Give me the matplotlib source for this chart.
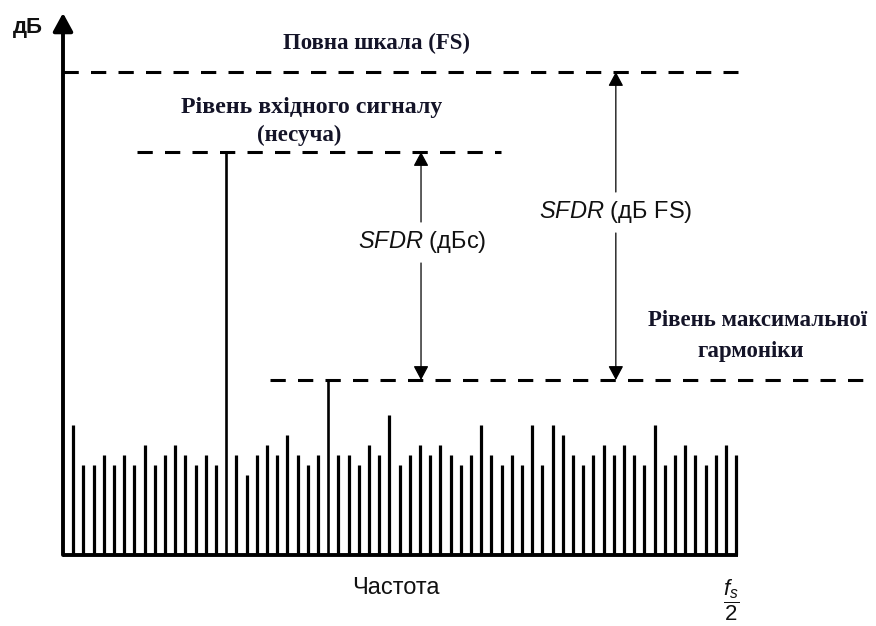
import matplotlib
matplotlib.use("Agg")
import matplotlib.pyplot as plt
import numpy as np

plt.rcParams['mathtext.fontset'] = 'custom'
plt.rcParams['mathtext.rm'] = 'Liberation Sans'
plt.rcParams['mathtext.it'] = 'Liberation Sans:italic'
plt.rcParams['mathtext.bf'] = 'Liberation Sans:bold'

# ---- data (relative level units) ----
bin_index = list(range(66))
levels = [13, 9, 9, 10, 9, 10, 9, 11, 9, 10, 11, 10, 9, 10, 9, 40.3,
          10, 8, 10, 11, 10, 12, 10, 9, 10, 17.5, 10, 10, 9, 11, 10, 14,
          9, 10, 11, 10, 11, 10, 9, 10, 13, 10, 9, 10, 9, 13, 9, 13,
          12, 10, 9, 10, 11, 10, 11, 10, 9, 13, 9, 10, 11, 10, 9, 10,
          11, 10]
carrier_idx = 15
harmonic_idx = 25
fs_level = 48.3
carrier_level = 40.3
harmonic_level = 17.5

label_fs = "Повна шкала (FS)"
label_in1 = "Рівень вхідного сигналу"
label_in2 = "(несуча)"
label_h1 = "Рівень максимальної"
label_h2 = "гармоніки"
label_dbc = r"$\mathit{SFDR}$ (дБс)"
label_dbfs = r"$\mathit{SFDR}$ (дБ FS)"
label_y = "дБ"
label_x = "Частота"
label_fs2 = r"$\dfrac{f_s}{2}$"

W, H = 876, 626
fig = plt.figure(figsize=(W / 100, H / 100), dpi=100)
ax = fig.add_axes([63 / W, 71 / H, (W - 63) / W, (555 - 13) / H])
ax.set_xlim(-1, -1 + (W - 63) / 10.2)
ax.set_ylim(0, 54.2)
ax.set_axis_off()

x = np.array(bin_index)
h = np.array(levels, dtype=float)
big = np.zeros(len(x), dtype=bool)
big[[carrier_idx, harmonic_idx]] = True

ax.vlines(x[~big], 0, h[~big], colors='black', lw=2.3, clip_on=False)
ax.vlines(x[big], 0, h[big], colors='black', lw=1.9, clip_on=False)

# baseline
ax.plot([-1, x[-1] + 0.2], [0, 0], color='black', lw=2.8, clip_on=False,
        solid_capstyle='butt')
# y axis with arrow
ax.annotate('', xy=(-1, 54.2), xytext=(-1, 0), annotation_clip=False,
            arrowprops=dict(arrowstyle='-|>,head_length=0.55,head_width=0.3',
                            lw=2.8, color='black', mutation_scale=20,
                            shrinkA=0, shrinkB=0, clip_on=False))

# dashed reference levels
dash = dict(color='black', lw=2.2, dashes=[5, 4], clip_on=False,
            dash_capstyle='butt')
ax.plot([-1, 65.2], [fs_level, fs_level], **dash)
ax.plot([6.3, 41.9], [carrier_level, carrier_level], **dash)
ax.plot([19.3, 78.3], [harmonic_level, harmonic_level], **dash)

# SFDR arrows
arr = dict(arrowstyle='-|>,head_length=0.43,head_width=0.23', lw=0.9,
           color='black', mutation_scale=20, shrinkA=0, shrinkB=0)
xa = 34.1
ax.annotate('', xy=(xa, carrier_level), xytext=(xa, 33.3), arrowprops=arr)
ax.annotate('', xy=(xa, harmonic_level), xytext=(xa, 29.2), arrowprops=arr)
xb = 53.2
ax.annotate('', xy=(xb, fs_level), xytext=(xb, 36.3), arrowprops=arr)
ax.annotate('', xy=(xb, harmonic_level), xytext=(xb, 32.2), arrowprops=arr)

sans = dict(family='Liberation Sans', fontsize=17, color='#111111',
            ha='center', va='center')
ax.text(34.2, 31.3, label_dbc, **sans)
ax.text(53.2, 34.3, label_dbfs, **sans)

serif = dict(family='Liberation Serif', fontweight='bold', fontsize=16.5,
             color='#141428', ha='center', va='center')
ax.text(29.7, 51.2, label_fs, **serif)
ax.text(23.4, 44.8, label_in1, **{**serif, 'fontsize': 17.2})
ax.text(22.2, 42.0, label_in2, **serif)
ax.text(67.1, 23.4, label_h1, **serif)
ax.text(66.4, 20.4, label_h2, **serif)

ax.text(-4.46, 52.8, label_y, family='Liberation Sans', fontweight='bold',
        fontsize=16, ha='center', va='center', color='#111111')
ax.text(31.6, -3.3, label_x, **sans)
ax.text(64.5, -4.5, label_fs2, family='Liberation Sans', fontsize=16,
        ha='center', va='center', color='#111111')

fig.savefig('out.png', dpi=100, facecolor='white')
